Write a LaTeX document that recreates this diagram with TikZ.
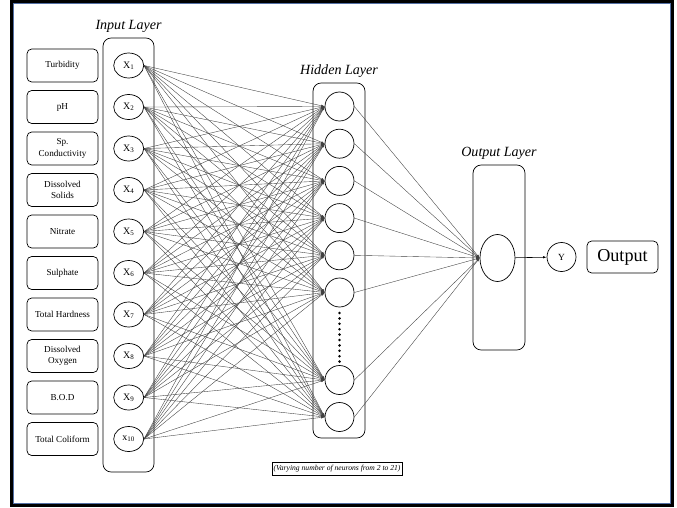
\documentclass[tikz,border=0pt]{standalone}
\usepackage{fontspec}
\setmainfont{Liberation Serif}
\usetikzlibrary{positioning,shapes.geometric,arrows.meta}
\definecolor{framebl}{RGB}{84,112,165}

\tikzset{
  featbox/.style={draw, rounded corners=4pt, minimum width=2.13cm, minimum height=0.99cm,
    align=center, inner sep=1pt, line width=0.6pt, font=\fontsize{7.8}{9.5}\selectfont},
  inneuron/.style={draw, ellipse, minimum width=0.9cm, minimum height=0.75cm, inner sep=0pt,
    line width=0.6pt, font=\fontsize{8.5}{9}\selectfont},
  hidneuron/.style={draw, circle, minimum size=0.87cm, inner sep=0pt, line width=0.6pt,
    font=\fontsize{8}{9}\selectfont},
  layerbox/.style={draw, rounded corners=7pt, line width=0.6pt},
  layertitle/.style={font=\fontsize{12}{14}\selectfont\itshape, inner sep=1pt},
  wire/.style={->, draw=black!75, line width=0.32pt},
}

\begin{document}
\begin{tikzpicture}[x=0.03cm, y=-0.03cm, >={Latex[length=3pt,width=2pt]}]
  \useasboundingbox (0,0) rectangle (677,507);
  % frame
  \draw[line width=2.6pt] (11.5,1.5) rectangle (672.5,505.5);
  \draw[framebl, line width=0.7pt] (13.6,3.6) rectangle (670.4,503.4);

  % input layer
  \node[layerbox, minimum width=1.53cm, minimum height=13.02cm] (inlayer) at (128.5,255) {};
  \node[layertitle, above=3pt of inlayer] (intitle) {Input Layer};
  \foreach \lbl/\sym [count=\i] in {Turbidity/X\textsubscript{1}, pH/X\textsubscript{2},
      {Sp.\\Conductivity}/X\textsubscript{3}, {Dissolved\\Solids}/X\textsubscript{4},
      Nitrate/X\textsubscript{5}, Sulphate/X\textsubscript{6},
      Total Hardness/X\textsubscript{7}, {Dissolved\\Oxygen}/X\textsubscript{8},
      B.O.D/X\textsubscript{9}, Total Coliform/x\textsubscript{10}} {
    \node[featbox] (f\i) at (62.5,{24+41.5*\i}) {\lbl};
    \node[inneuron, right=0.45cm of f\i] (x\i) {\sym};
  }

  % hidden layer
  \node[layerbox, minimum width=1.56cm, minimum height=10.65cm] (hidlayer) at (339,260.5) {};
  \node[layertitle, above=3pt of hidlayer] (hidtitle) {Hidden Layer};
  \foreach \j/\yy in {1/106.5, 2/143.7, 3/180.9, 4/218.1, 5/255.3, 6/292.5, 7/380, 8/417}
    \node[hidneuron] (h\j) at (339.5,\yy) {};
  \foreach \k in {0,...,9}
    \fill (339.5,{313+5.4*\k}) circle (1.4);
  \node[draw, line width=0.4pt, inner sep=1.5pt, minimum width=3.9cm, minimum height=0.39cm,
    font=\fontsize{6.5}{7}\selectfont\itshape] (note) at (337,468.5)
    {(Varying number of neurons from 2 to 21)};

  % output layer
  \node[layerbox, minimum width=1.56cm, minimum height=5.55cm] (outlayer) at (499,257.5) {};
  \node[layertitle, above=3pt of outlayer] (outtitle) {Output Layer};
  \node[draw, ellipse, minimum width=1.05cm, minimum height=1.41cm, line width=0.6pt] (o) at (497.5,258) {};
  \node[hidneuron] (yout) at (561.5,257) {Y};
  \node[featbox, minimum height=0.96cm, font=\fontsize{15.5}{17}\selectfont] (res) at (622.5,257) {Output};

  % connections
  \foreach \i in {1,...,10}
    \foreach \j in {1,...,8}
      \draw[wire] (x\i.east) -- (h\j.west);
  \foreach \j in {1,...,8}
    \draw[wire] (h\j.east) -- (o.west);
  \draw[->, line width=0.5pt] (o) -- (yout);
\end{tikzpicture}
\end{document}
